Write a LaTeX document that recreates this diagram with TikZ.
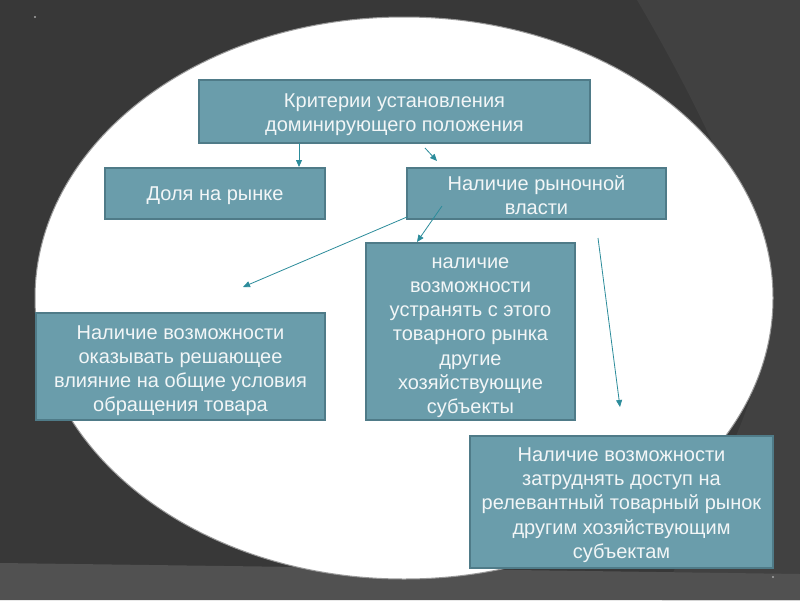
\documentclass[tikz,border=0pt]{standalone}
\usepackage{fontspec}
\setmainfont{Liberation Sans}
\usetikzlibrary{arrows.meta}
\definecolor{bgdark}{HTML}{383838}
\definecolor{bgmid}{HTML}{414141}
\definecolor{bgband}{HTML}{515151}
\definecolor{boxfill}{HTML}{6A9DAB}
\definecolor{boxline}{HTML}{4F7B88}
\definecolor{arrowc}{HTML}{2C8C9B}
\definecolor{txt}{HTML}{F2F6F7}
\tikzset{
  box/.style={draw=boxline, line width=1.6pt, fill=boxfill, inner sep=0pt},
  boxtext/.style={text=txt, align=center, font=\fontsize{20}{24.2}\selectfont, inner sep=0pt},
  conn/.style={draw=arrowc, line width=0.8pt, -{Triangle[length=7pt,width=6pt]}}
}
\begin{document}
\begin{tikzpicture}[x=1pt,y=-1pt]
\useasboundingbox (0,0) rectangle (800,600);
% background
\fill[bgdark] (0,0) rectangle (800,600);
\fill[bgmid] (637,0) .. controls (690,90) and (745,200) .. (772,300)
  .. controls (760,420) and (700,500) .. (662,600) -- (800,600) -- (800,0) -- cycle;
\fill[bgband] (0,563) -- (300,567) -- (800,574) -- (800,600) -- (0,600) -- cycle;
\fill[gray!70] (35,17) circle (1.2pt);
\fill[gray!70] (773,577) circle (1.2pt);
% ellipse
\draw[fill=white, draw=gray!80, line width=1pt]
  (404,298) ellipse [x radius=369pt, y radius=281pt];
% boxes
\node[box, minimum width=391pt, minimum height=63pt] (crit) at (394.5,111.5) {};
\node[boxtext, yshift=-3pt] (critT) at (crit.center)
  {Критерии установления\\доминирующего положения};
\node[box, minimum width=220pt, minimum height=51pt] (dolya) at (215,193.5) {};
\node[boxtext, yshift=-2pt] (dolyaT) at (dolya.center) {Доля на рынке};
\node[box, minimum width=259pt, minimum height=51pt] (vlast) at (536.5,193.5) {};
\node[boxtext, yshift=-2pt] (vlastT) at (vlast.center) {Наличие рыночной\\власти};
\node[box, minimum width=209pt, minimum height=177pt] (ustr) at (470.5,331.5) {};
\node[boxtext, yshift=-6pt] (ustrT) at (ustr.center)
  {наличие\\возможности\\устранять с этого\\товарного рынка\\другие\\хозяйствующие\\субъекты};
\node[box, minimum width=289pt, minimum height=107pt] (vliy) at (180.5,366.5) {};
\node[boxtext, yshift=-4pt] (vliyT) at (vliy.center)
  {Наличие возможности\\оказывать решающее\\влияние на общие условия\\обращения товара};
\node[box, minimum width=303pt, minimum height=132pt] (zatr) at (621.5,502) {};
\node[boxtext, yshift=-3pt] (zatrT) at (zatr.center)
  {Наличие возможности\\затруднять доступ на\\релевантный товарный рынок\\другим хозяйствующим\\субъектам};
% connector ends
\coordinate (a1s) at (299,143);
\coordinate (a1e) at (299,167);
\coordinate (a2s) at (425,148);
\coordinate (a2e) at (437,161);
\coordinate (a3s) at (407,217);
\coordinate (a3e) at (243,287);
\coordinate (a4s) at (442,206);
\coordinate (a4e) at (417,242);
\coordinate (a5s) at (598,238);
\coordinate (a5e) at (620,407);
\draw[conn] (a1s) -- (a1e);
\draw[conn] (a2s) -- (a2e);
\draw[conn] (a3s) -- (a3e);
\draw[conn] (a4s) -- (a4e);
\draw[conn] (a5s) -- (a5e);
\end{tikzpicture}
\end{document}
